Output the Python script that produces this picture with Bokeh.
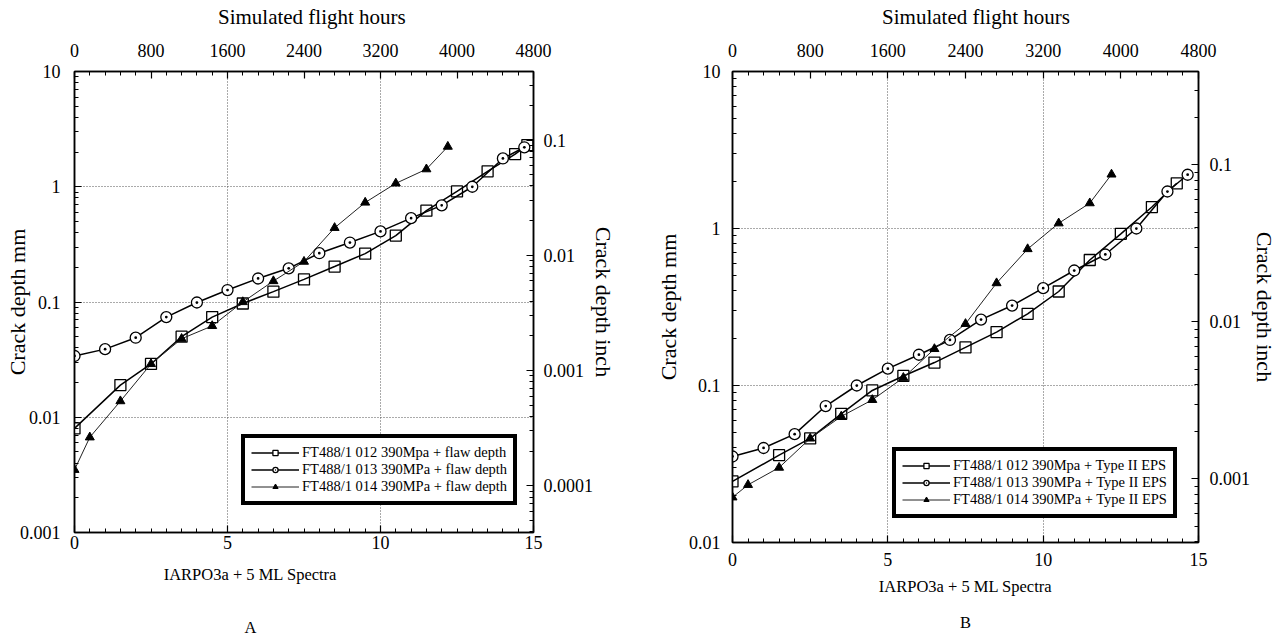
import math
from bokeh.plotting import figure
from bokeh.layouts import row
from bokeh.models import (Range1d, LinearAxis, LogAxis, LogScale, FixedTicker,
                          CustomJSTickFormatter, Legend, LegendItem)
from bokeh.embed import file_html
from bokeh.resources import INLINE

FONT = "Liberation Serif"

# ---------------- data ----------------
# Panel A : + flaw depth
A_x_012 = [0, 1.5, 2.5, 3.5, 4.5, 5.5, 6.5, 7.5, 8.5, 9.5, 10.5, 11.5, 12.5, 13.5, 14.4, 14.8]
A_y_012 = [0.008, 0.019, 0.029, 0.050, 0.074, 0.097, 0.123, 0.157, 0.203, 0.263, 0.377, 0.62, 0.91, 1.36, 1.92, 2.3]
A_x_013 = [0, 1, 2, 3, 4, 5, 6, 7, 8, 9, 10, 11, 12, 13, 14, 14.7]
A_y_013 = [0.034, 0.039, 0.049, 0.074, 0.099, 0.127, 0.16, 0.196, 0.265, 0.328, 0.41, 0.534, 0.69, 1.0, 1.76, 2.2]
A_x_014 = [0, 0.5, 1.5, 2.5, 3.5, 4.5, 5.5, 6.5, 7.5, 8.5, 9.5, 10.5, 11.5, 12.2]
A_y_014 = [0.0035, 0.0067, 0.0138, 0.029, 0.048, 0.062, 0.10, 0.152, 0.224, 0.44, 0.73, 1.07, 1.42, 2.23]

# Panel B : + Type II EPS
B_x_012 = [0, 1.5, 2.5, 3.5, 4.5, 5.5, 6.5, 7.5, 8.5, 9.5, 10.5, 11.5, 12.5, 13.5, 14.3]
B_y_012 = [0.0245, 0.036, 0.046, 0.066, 0.093, 0.115, 0.14, 0.175, 0.219, 0.286, 0.397, 0.63, 0.925, 1.37, 1.94]
B_x_013 = [0, 1, 2, 3, 4, 5, 6, 7, 8, 9, 10, 11, 12, 13, 14, 14.65]
B_y_013 = [0.0353, 0.040, 0.049, 0.074, 0.1, 0.128, 0.157, 0.195, 0.263, 0.323, 0.417, 0.54, 0.683, 1.0, 1.72, 2.2]
B_x_014 = [0, 0.5, 1.5, 2.5, 3.5, 4.5, 5.5, 6.5, 7.5, 8.5, 9.5, 10.5, 11.5, 12.2]
B_y_014 = [0.0194, 0.0233, 0.030, 0.046, 0.0635, 0.081, 0.112, 0.171, 0.247, 0.449, 0.74, 1.08, 1.45, 2.21]

A_labels = ["FT488/1 012 390Mpa + flaw depth",
            "FT488/1 013 390MPa + flaw depth",
            "FT488/1 014 390MPa + flaw depth"]
B_labels = ["FT488/1 012 390Mpa + Type II EPS",
            "FT488/1 013 390MPa + Type II EPS",
            "FT488/1 014 390MPa + Type II EPS"]

x_title = "IARPO3a + 5 ML Spectra"
top_title = "Simulated flight hours"
left_title = "Crack depth mm"
right_title = "Crack depth inch"

# tick labels
x_major = [0, 5, 10, 15]
x_minor = [i * 0.5 for i in range(31)]
hours_major = [0, 800, 1600, 2400, 3200, 4000, 4800]
hours_minor = list(range(0, 4801, 160))
A_y_major = [0.001, 0.01, 0.1, 1, 10]
B_y_major = [0.01, 0.1, 1, 10]
A_inch_major = [0.0001, 0.001, 0.01, 0.1]
B_inch_major = [0.001, 0.01, 0.1]
MM_PER_INCH = 25.4
HOURS_PER_UNIT = 320.0

NBSP = "\u00a0"


def log_minors(lo_exp, hi_exp):
    return [m * 10.0 ** e for e in range(lo_exp, hi_exp) for m in range(2, 10)]


def style_axis(ax, standoff, label="", label_standoff=5, line_height=1.2, label_size="18px"):
    ax.axis_line_color = "black"
    ax.axis_line_width = 1.5
    ax.major_tick_in = 7
    ax.major_tick_out = 0
    ax.minor_tick_in = 4
    ax.minor_tick_out = 0
    ax.major_tick_line_color = "black"
    ax.minor_tick_line_color = "black"
    ax.major_tick_line_width = 1.2
    ax.minor_tick_line_width = 1
    ax.major_label_text_font = FONT
    ax.major_label_text_font_size = "18px"
    ax.major_label_text_color = "black"
    ax.major_label_standoff = standoff
    ax.axis_label = label
    ax.axis_label_text_font = FONT
    ax.axis_label_text_font_size = label_size
    ax.axis_label_text_font_style = "normal"
    ax.axis_label_text_color = "black"
    ax.axis_label_standoff = label_standoff
    ax.axis_label_text_line_height = line_height


def build(width, height, mb, y_lo, y_hi, y_major, inch_major, xs, ys, labels,
          legend_loc, ax_cfg):
    p = figure(width=width, height=height, x_range=Range1d(0, 15),
               y_range=Range1d(y_lo, y_hi), y_axis_type="log",
               output_backend="svg", toolbar_location=None,
               min_border_left=mb[0], min_border_right=mb[1],
               min_border_top=mb[2], min_border_bottom=mb[3],
               background_fill_color="white", border_fill_color="white")
    p.frame_align = False
    p.outline_line_color = "black"
    p.outline_line_width = 1.5
    fmt = CustomJSTickFormatter(code="return String(parseFloat(tick.toPrecision(6)));")

    e_lo = int(round(math.log10(y_lo)))
    e_hi = int(round(math.log10(y_hi)))
    xa = p.xaxis[0]
    xa.ticker = FixedTicker(ticks=x_major, minor_ticks=x_minor)
    style_axis(xa, *ax_cfg["bottom"])
    ya = p.yaxis[0]
    ya.ticker = FixedTicker(ticks=y_major, minor_ticks=log_minors(e_lo, e_hi))
    ya.formatter = fmt
    style_axis(ya, *ax_cfg["left"])

    p.extra_x_ranges = {"hours": Range1d(0, 15 * HOURS_PER_UNIT)}
    top = LinearAxis(x_range_name="hours",
                     ticker=FixedTicker(ticks=hours_major, minor_ticks=hours_minor))
    style_axis(top, *ax_cfg["top"])
    p.add_layout(top, "above")

    p.extra_y_ranges = {"inch": Range1d(y_lo / MM_PER_INCH, y_hi / MM_PER_INCH)}
    p.extra_y_scales = {"inch": LogScale()}
    right = LogAxis(y_range_name="inch",
                    ticker=FixedTicker(ticks=inch_major, minor_ticks=log_minors(e_lo - 2, e_hi)),
                    formatter=fmt)
    style_axis(right, *ax_cfg["right"])
    p.add_layout(right, "right")

    p.xgrid[0].ticker = FixedTicker(ticks=[5, 10])
    p.ygrid[0].ticker = FixedTicker(ticks=[v for v in y_major if y_lo < v < y_hi])
    for g in (p.xgrid[0], p.ygrid[0]):
        g.grid_line_color = "#555555"
        g.grid_line_dash = "1 2"
        g.grid_line_width = 1

    # series 012 : squares
    s1 = p.scatter(xs[0], ys[0], marker="square", size=11, fill_color="white",
                   line_color="black", line_width=1.3)
    l1 = p.line(xs[0], ys[0], line_color="black", line_width=1.5)
    # series 013 : circles
    l2 = p.line(xs[1], ys[1], line_color="black", line_width=1.5)
    s2 = p.scatter(xs[1], ys[1], marker="circle_dot", size=11, fill_color="white",
                   line_color="black", line_width=1.3)
    # series 014 : triangles
    l3 = p.line(xs[2], ys[2], line_color="#222222", line_width=1)
    s3 = p.scatter(xs[2], ys[2], marker="triangle", size=9, fill_color="black",
                   line_color="black")

    legend = Legend(items=[LegendItem(label=labels[0], renderers=[l1, s1]),
                           LegendItem(label=labels[1], renderers=[l2, s2]),
                           LegendItem(label=labels[2], renderers=[l3, s3])],
                    location=legend_loc)
    legend.label_text_font = FONT
    legend.label_text_font_size = "14.5px"
    legend.label_text_color = "black"
    legend.label_height = 13
    legend.glyph_height = 13
    legend.glyph_width = 48
    legend.label_standoff = 3
    legend.spacing = 0
    legend.padding = 6
    legend.margin = 0
    legend.border_line_color = "black"
    legend.border_line_alpha = 1
    legend.border_line_width = 4
    legend.background_fill_color = "white"
    legend.background_fill_alpha = 1
    p.add_layout(legend, "center")
    return p


H = 641
padA = NBSP * 26
A_bottom_label = x_title + padA + "\n" + NBSP + "\n" + "A" + padA
B_bottom_label = x_title + "\n" + "B"
A_top_label = NBSP * 3 + top_title
B_top_label = NBSP * 4 + top_title

pA = build(640, H, (74, 107, 71, H - 71 - 461), 0.001, 10, A_y_major, A_inch_major,
           (A_x_012, A_x_013, A_x_014), (A_y_012, A_y_013, A_y_014), A_labels,
           (167, 27),
           {"bottom": (3, A_bottom_label, 13, 1.42, "16.5px"),
            "left": (14, left_title, -13, 1.2, "22px"),
            "top": (15, A_top_label, 12, 1.2, "21px"),
            "right": (10, right_title, -5, 1.2, "22px")})

pB = build(640, H, (92, 79, 71, H - 71 - 471), 0.01, 10, B_y_major, B_inch_major,
           (B_x_012, B_x_013, B_x_014), (B_y_012, B_y_013, B_y_014), B_labels,
           (160, 24),
           {"bottom": (10, B_bottom_label, 8, 1.92, "16.5px"),
            "left": (12, left_title, 5, 1.2, "22px"),
            "top": (15, B_top_label, 12, 1.2, "21px"),
            "right": (11, right_title, -1, 1.2, "22px")})

layout = row(pA, pB)
open("out.html", "w").write(file_html(layout, INLINE))
